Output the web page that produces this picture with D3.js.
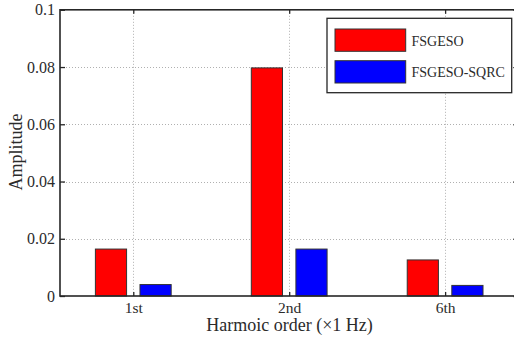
<!DOCTYPE html>
<html>
<head>
<meta charset="utf-8">
<script src="https://cdn.jsdelivr.net/npm/d3@7"></script>
<style>
  html, body { margin: 0; padding: 0; background: #fff; }
  svg { display: block; }
  svg text { font-family: "Liberation Serif", "Times New Roman", serif; fill: #2b2b2b; }
</style>
</head>
<body>
<svg id="chart" width="514" height="339"></svg>
<script>
// Harmonic amplitudes for the two controllers
const categories = ["1st", "2nd", "6th"];
const seriesNames = ["FSGESO", "FSGESO-SQRC"];
const fsgeso = [0.0164, 0.0797, 0.0126];
const fsgesoSqrc = [0.0040, 0.0164, 0.0037];
const yTicks = [0, 0.02, 0.04, 0.06, 0.08, 0.1];
const colors = ["#ff0000", "#0000ff"];

const svg = d3.select("#chart");
const plotL = 60, plotR = 518.4, plotT = 9.8, plotB = 296;

const x = d3.scaleLinear().domain([0.53, 3.47]).range([plotL, plotR]);
const y = d3.scaleLinear().domain([0, 0.1]).range([plotB, plotT]);

const catPos = categories.map((c, i) => i + 1);
const offset = 0.143, barW = 0.2;

// dotted grid
const grid = svg.append("g").attr("stroke", "#b0b0b0").attr("stroke-width", 1)
  .attr("stroke-dasharray", "1,2");
grid.selectAll("line.h").data(yTicks.filter(t => t > 0 && t < 0.1)).join("line")
  .attr("class", "h")
  .attr("x1", plotL).attr("x2", plotR)
  .attr("y1", d => Math.round(y(d)) + 0.5).attr("y2", d => Math.round(y(d)) + 0.5);
grid.selectAll("line.v").data(catPos).join("line")
  .attr("class", "v")
  .attr("x1", d => Math.round(x(d)) + 0.5).attr("x2", d => Math.round(x(d)) + 0.5)
  .attr("y1", plotT).attr("y2", plotB);

// bars
const series = [fsgeso, fsgesoSqrc];
series.forEach((vals, s) => {
  const dx = s === 0 ? -offset : offset;
  svg.append("g").selectAll("rect").data(vals).join("rect")
    .attr("x", (d, i) => x(catPos[i] + dx - barW / 2))
    .attr("width", (d, i) => x(catPos[i] + dx + barW / 2) - x(catPos[i] + dx - barW / 2))
    .attr("y", d => y(d))
    .attr("height", d => y(0) - y(d))
    .attr("fill", colors[s])
    .attr("stroke", "#333")
    .attr("stroke-width", 1);
});

// axes (ticks pointing inward, box around plot)
const axisColor = "#262626";
const yAxis = d3.axisLeft(y).tickValues(yTicks).tickSize(-5).tickPadding(5)
  .tickFormat(d => d === 0 ? "0" : String(+d.toFixed(2)));
const yg = svg.append("g").attr("transform", `translate(${plotL},0)`).call(yAxis)
  .attr("font-family", null).attr("font-size", null);
yg.select(".domain").remove();
yg.selectAll(".tick line").attr("stroke", axisColor).attr("stroke-width", 1.3);
yg.selectAll(".tick text").attr("fill", null).style("font-size", "16px");

const yAxisR = d3.axisRight(y).tickValues(yTicks).tickSize(-5).tickFormat("");
const ygr = svg.append("g").attr("transform", `translate(${plotR},0)`).call(yAxisR);
ygr.select(".domain").remove();
ygr.selectAll(".tick line").attr("stroke", axisColor).attr("stroke-width", 1.3);

const xAxis = d3.axisBottom(x).tickValues(catPos).tickSize(-4).tickPadding(7)
  .tickFormat((d, i) => categories[i]);
const xg = svg.append("g").attr("transform", `translate(0,${plotB})`).call(xAxis)
  .attr("font-family", null).attr("font-size", null);
xg.select(".domain").remove();
xg.selectAll(".tick line").attr("stroke", axisColor).attr("stroke-width", 1.3);
xg.selectAll(".tick text").attr("fill", null).attr("dy", null).attr("y", 16.5)
  .style("font-size", "15.5px");

const xAxisT = d3.axisTop(x).tickValues(catPos).tickSize(-4).tickFormat("");
const xgt = svg.append("g").attr("transform", `translate(0,${plotT})`).call(xAxisT);
xgt.select(".domain").remove();
xgt.selectAll(".tick line").attr("stroke", axisColor).attr("stroke-width", 1.3);

svg.append("rect").attr("x", plotL).attr("y", plotT)
  .attr("width", plotR - plotL).attr("height", plotB - plotT)
  .attr("fill", "none").attr("stroke", axisColor).attr("stroke-width", 1.6);

// axis titles
svg.append("text").attr("x", 289.5).attr("y", 330.5)
  .attr("text-anchor", "middle").style("font-size", "18px")
  .text("Harmoic order (\u00d71 Hz)");
svg.append("text").attr("transform", "translate(22,152) rotate(-90)")
  .attr("text-anchor", "middle").style("font-size", "18px")
  .text("Amplitude");

// legend
const lg = svg.append("g");
lg.append("rect").attr("x", 327).attr("y", 18.3).attr("width", 184.7).attr("height", 74.4)
  .attr("fill", "#fff").attr("stroke", axisColor).attr("stroke-width", 1.3);
seriesNames.forEach((name, i) => {
  const yy = 29 + i * 31.7;
  lg.append("rect").attr("x", 335).attr("y", yy).attr("width", 70.7).attr("height", 22.3)
    .attr("fill", colors[i]).attr("stroke", "#333").attr("stroke-width", 1);
  lg.append("text").attr("x", 411.5).attr("y", yy + 16.5)
    .style("font-size", "14px").text(name);
});
</script>
</body>
</html>
